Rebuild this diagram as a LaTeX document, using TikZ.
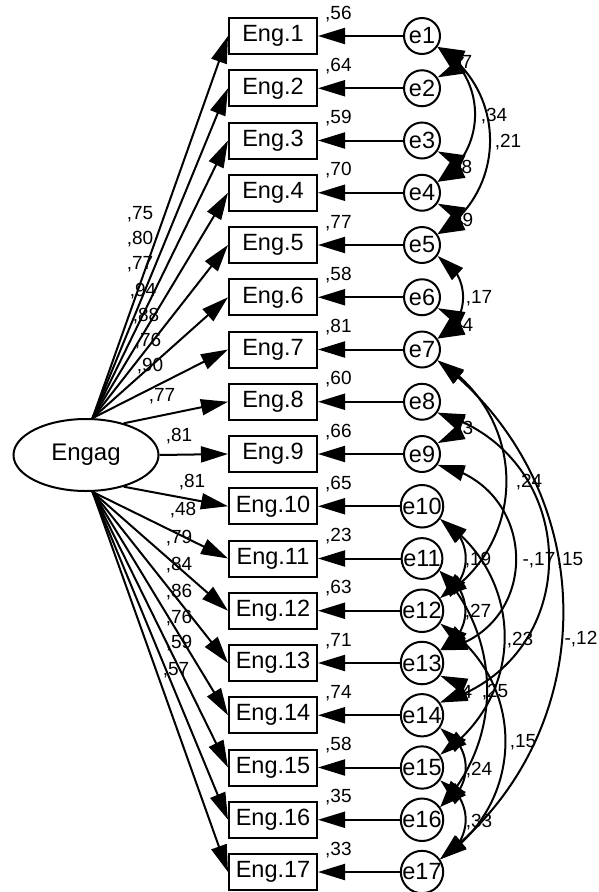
\documentclass[tikz,border=0pt]{standalone}
\usepackage{fontspec}
\setmainfont{Liberation Sans}
\usetikzlibrary{arrows.meta,bending,shapes.geometric}

\begin{document}
\begin{tikzpicture}[x=1pt,y=1pt,>={Triangle[length=27pt,width=16pt]},
 item/.style={draw,line width=2pt,minimum width=88pt,minimum height=36pt,inner sep=0pt,font=\fontsize{23.5}{26}\selectfont},
 resid/.style={draw,circle,line width=2pt,minimum size=36pt,inner sep=0pt,font=\fontsize{23.5}{26}\selectfont},
 latent/.style={draw,ellipse,line width=2pt,minimum width=145pt,minimum height=72pt,inner sep=0pt,font=\fontsize{24}{28}\selectfont},
 load/.style={->,line width=2pt},
 cov/.style={<->,line width=2pt},
 note/.style={font=\fontsize{19}{22}\selectfont,inner sep=0pt}]
\useasboundingbox (0,0) rectangle (599,-892);

\node[latent] (engag) at (86,-455) {Engag};

% indicators, residuals and error variances
\foreach \i/\v in {1/56,2/64,3/59,4/70,5/77,6/58,7/81,8/60,9/66,10/65,11/23,12/63,13/71,14/74,15/58,16/35,17/33} {
 \node[item] (eng\i) at (273,{-36-(\i-1)*52.25}) {Eng.\i};
 \node[resid] (e\i) at (422,{-36-(\i-1)*52.25}) {e\i};
 \draw[load] (e\i) -- (eng\i);
 \node[note,anchor=base west] (lv\i) at ([shift={(7,-2)}]eng\i.north east) {,\v};
}

% loadings
\foreach \i/\a/\v/\lx/\ly in {1/80/75/140/214,2/80/80/140/239,3/80/77/140/264,4/80/94/143/291,5/80/88/146/316,6/80/76/148/341,7/80/90/150/366,8/40/77/162/396,9/0/81/179/436,10/-40/81/192/482,11/-80/48/183/510,12/-80/79/179/538,13/-80/84/179/565,14/-80/86/179/592,15/-80/76/179/618,16/-80/59/179/643,17/-80/57/176/670} {
 \draw[load] (engag.\a) -- (eng\i.west);
 \node[note] (ll\i) at (\lx,-\ly) {,\v};
}

% covariances between residuals
\foreach \a/\b/\dx/\dy in {1/2/30/8,3/4/30/8,4/5/30/8,6/7/30/8,8/9/30/8,13/14/30/8,
 5/7/34/17,10/12/34/17,11/13/34/17,14/16/34/17,15/17/34/17,
 1/4/50/31,1/5/70/43,7/12/90/55,7/17/166/126,8/14/147/42,9/13/103/20,
 10/15/86/57,11/16/63/67,12/17/87/56}
 \draw[cov] (e\a.-35) .. controls +(\dx,-\dy) and +(\dx,\dy) .. (e\b.35);

\node[note] (k1) at (467,-62) {7};
\node[note] (k2) at (494,-116) {,34};
\node[note] (k3) at (508,-142) {,21};
\node[note] (k4) at (467,-167) {8};
\node[note] (k5) at (468,-220) {9};
\node[note] (k6) at (479,-298) {,17};
\node[note] (k7) at (468,-325) {4};
\node[note] (k8) at (468,-428) {3};
\node[note] (k9) at (529,-482) {,24};
\node[note] (k10) at (478,-560) {,19};
\node[note] (k11) at (539,-560) {-,17};
\node[note] (k12) at (570,-560) {,15};
\node[note] (k13) at (478,-612) {,27};
\node[note] (k14) at (520,-640) {,23};
\node[note] (k15) at (581,-639) {-,12};
\node[note] (k16) at (467,-692) {4};
\node[note] (k17) at (495,-692) {,25};
\node[note] (k18) at (523,-742) {,15};
\node[note] (k19) at (479,-770) {,24};
\node[note] (k20) at (479,-822) {,33};
\end{tikzpicture}
\end{document}
